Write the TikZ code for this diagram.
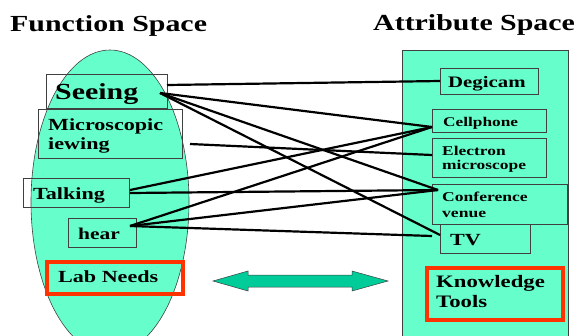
\documentclass[tikz,border=0pt]{standalone}
\usepackage{fontspec}
\usetikzlibrary{shapes.geometric}
\setmainfont{Liberation Serif}[FakeStretch=1.3]
\definecolor{aqua}{HTML}{66FFCC}
\definecolor{arrowc}{HTML}{00CC99}
\definecolor{redc}{HTML}{FF3300}
\definecolor{edgec}{HTML}{404040}
\tikzset{
  lbl/.style={anchor=base west, inner sep=0pt, text=black},
  bx/.style={draw=edgec, line width=0.8pt, anchor=north west, inner sep=0pt},
  redbx/.style={draw=redc, line width=3.6pt, anchor=north west, inner sep=0pt},
  link/.style={line width=2.2pt, black},
}
\newcommand{\fsz}[1]{\bfseries\fontsize{#1}{#1}\selectfont}
\begin{document}
\begin{tikzpicture}[x=1pt,y=-1pt]
\useasboundingbox (0,0) rectangle (577,335);
\clip (0,0) rectangle (577,335);
% background shapes
\node[draw=edgec, line width=0.6pt, fill=aqua, ellipse, minimum width=158, minimum height=304, inner sep=0pt] (fspace) at (110,202) {};
\node[bx, fill=aqua, draw=edgec, minimum width=166, minimum height=300] (aspace) at (402,50) {};
% left boxes
\node[bx, minimum width=121, minimum height=34] (seeingbx) at (46,74) {};
\node[bx, minimum width=144, minimum height=49] (microbx) at (38,109) {};
\node[bx, minimum width=106, minimum height=29] (talkbx) at (23,178) {};
\node[bx, minimum width=68, minimum height=29] (hearbx) at (68,218) {};
\node[redbx, minimum width=136, minimum height=32] (labbx) at (45,260) {};
% right boxes
\node[bx, minimum width=98, minimum height=26] (degibx) at (440,68) {};
\node[bx, minimum width=114, minimum height=23] (cellbx) at (432,109) {};
\node[bx, minimum width=114, minimum height=39] (elecbx) at (432,138) {};
\node[bx, minimum width=135, minimum height=40] (confbx) at (432,184) {};
\node[bx, minimum width=90, minimum height=29] (tvbx) at (440,224) {};
\node[redbx, minimum width=136, minimum height=52] (knowbx) at (425,266) {};
% connector points
\coordinate (sA) at (167,85);
\coordinate (sB) at (160,93);
\coordinate (mA) at (190,144);
\coordinate (tA) at (130,190);
\coordinate (tB) at (130,193);
\coordinate (hA) at (130,226);
\coordinate (dgP) at (440,81);
\coordinate (clP) at (432,127);
\coordinate (elP) at (432,155);
\coordinate (cfP) at (438,190);
\coordinate (tvP) at (440,235);
\coordinate (tvQ) at (432,236);
% connectors
\draw[link] (sA) -- (dgP);
\draw[link] (sB) -- (clP);
\draw[link] (sB) -- (cfP);
\draw[link] (sB) -- (tvP);
\draw[link] (mA) -- (elP);
\draw[link] (tA) -- (clP);
\draw[link] (tB) -- (cfP);
\draw[link] (hA) -- (clP);
\draw[link] (hA) -- (cfP);
\draw[link] (hA) -- (tvQ);
% double arrow
\draw[draw=edgec, line width=0.5pt, fill=arrowc] (213,281) -- (248,271) -- (248,275) -- (352,275) -- (352,271) -- (388,281) -- (352,291) -- (352,287) -- (248,287) -- (248,291) -- cycle;
% texts
\node[lbl, font=\fsz{23}] (ftitle) at (10,31) {Function Space};
\node[lbl, font=\fsz{23}] (atitle) at (373,30) {Attribute Space};
\node[lbl, font=\fsz{23}] (seeing) at (55,99) {Seeing};
\node[lbl, font=\fsz{17}] (micro1) at (48,130) {Microscopic};
\node[lbl, font=\fsz{17}] (micro2) at (48,149) {iewing};
\node[lbl, font=\fsz{17}] (talking) at (33,199) {Talking};
\node[lbl, font=\fsz{16.5}] (hear) at (78,239) {hear};
\node[lbl, font=\fsz{17}] (labneeds) at (58,282) {Lab Needs};
\node[lbl, font=\fsz{16}] (degicam) at (448,87) {Degicam};
\node[lbl, font=\fsz{13.3}] (cellphone) at (443,126) {Cellphone};
\node[lbl, font=\fsz{13.4}] (elec1) at (442,155) {Electron};
\node[lbl, font=\fsz{13.4}] (elec2) at (442,169) {microscope};
\node[lbl, font=\fsz{13.5}] (conf1) at (442,201) {Conference};
\node[lbl, font=\fsz{13.5}] (conf2) at (442,217) {venue};
\node[lbl, font=\fsz{17}] (tv) at (450,245) {TV};
\node[lbl, font=\fsz{17.5}] (know1) at (436,287) {Knowledge};
\node[lbl, font=\fsz{17.5}] (know2) at (436,307) {Tools};
\end{tikzpicture}
\end{document}
